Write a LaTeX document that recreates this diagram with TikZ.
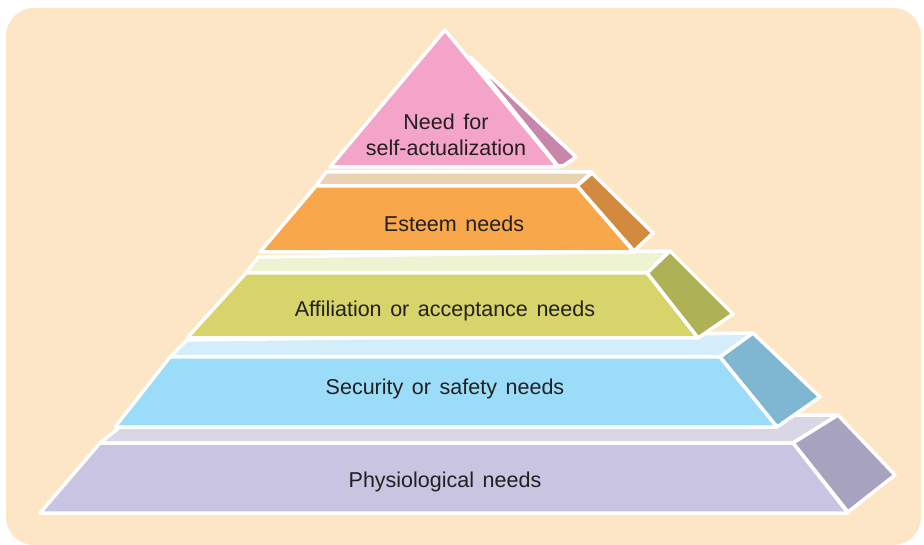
\documentclass[tikz,border=0pt]{standalone}
\usepackage{fontspec}
\setmainfont{Liberation Sans}
\newcommand{\lblfont}{\fontsize{21.5}{26}\selectfont\spaceskip=0.4em plus 0.1em\relax}
\begin{document}
\begin{tikzpicture}[x=1pt,y=-1pt,
  face/.style={draw=white,line width=3.5pt,line join=round},
  lbl/.style={font=\lblfont,text=labeltext,align=center,inner sep=0pt}]
\definecolor{bg}{HTML}{FDE6C5}
\definecolor{labeltext}{HTML}{231F20}
\definecolor{pinkF}{HTML}{F4A4C8}
\definecolor{pinkS}{HTML}{C886AA}
\definecolor{tanT}{HTML}{E9D3B3}
\definecolor{oraF}{HTML}{F9A74B}
\definecolor{oraS}{HTML}{D18A3E}
\definecolor{grnT}{HTML}{EEF3D1}
\definecolor{grnF}{HTML}{D6D46A}
\definecolor{grnS}{HTML}{AFB157}
\definecolor{bluT}{HTML}{D3EEFA}
\definecolor{bluF}{HTML}{9BDCF8}
\definecolor{bluS}{HTML}{7FB6D2}
\definecolor{lavT}{HTML}{D9D6E6}
\definecolor{lavF}{HTML}{C8C4E1}
\definecolor{lavS}{HTML}{A7A2BE}
\useasboundingbox (0,0) rectangle (924,545);
\fill[white] (0,0) rectangle (924,545);
\fill[bg,rounded corners=28pt] (6,8) rectangle (921,545);
% Physiological
\filldraw[face,fill=lavT] (100,443) -- (793,443) -- (838,415) -- (135,415) -- cycle;
\filldraw[face,fill=lavS] (793,443) -- (838,415) -- (895,475) -- (848,512) -- cycle;
\filldraw[face,fill=lavF] (40,513) -- (848,513) -- (793,443) -- (100,443) -- cycle;
\node[lbl] (phys) at (445,482) {Physiological needs};
% Security
\filldraw[face,fill=bluT] (170,357) -- (720,357) -- (753,333) -- (187,340) -- cycle;
\filldraw[face,fill=bluS] (720,357) -- (753,333) -- (820,397) -- (777,427) -- cycle;
\filldraw[face,fill=bluF] (115,427) -- (777,427) -- (720,357) -- (170,357) -- cycle;
\node[lbl] (sec) at (445,389) {Security or safety needs};
% Affiliation
\filldraw[face,fill=grnT] (246,273) -- (647,273) -- (670,251) -- (258,257) -- cycle;
\filldraw[face,fill=grnS] (647,273) -- (670,251) -- (733,314) -- (698,338) -- cycle;
\filldraw[face,fill=grnF] (187,338) -- (698,338) -- (647,273) -- (246,273) -- cycle;
\node[lbl] (aff) at (445,311) {Affiliation or acceptance needs};
% Esteem
\filldraw[face,fill=tanT] (316,186) -- (577,186) -- (592,172) -- (326,172) -- cycle;
\filldraw[face,fill=oraS] (577,186) -- (592,173) -- (653,233) -- (634,251) -- cycle;
\filldraw[face,fill=oraF] (260,252) -- (634,252) -- (577,186) -- (316,186) -- cycle;
\node[lbl] (est) at (454,224) {Esteem needs};
% Self-actualization
\filldraw[face,fill=pinkS] (470,57) -- (576,157) -- (563,166) -- (558,166) -- cycle;
\filldraw[face,fill=pinkF] (330,167) -- (558,167) -- (445,30) -- cycle;
\node[lbl] (self) at (446,135) {Need for\\self-actualization};
\end{tikzpicture}
\end{document}
